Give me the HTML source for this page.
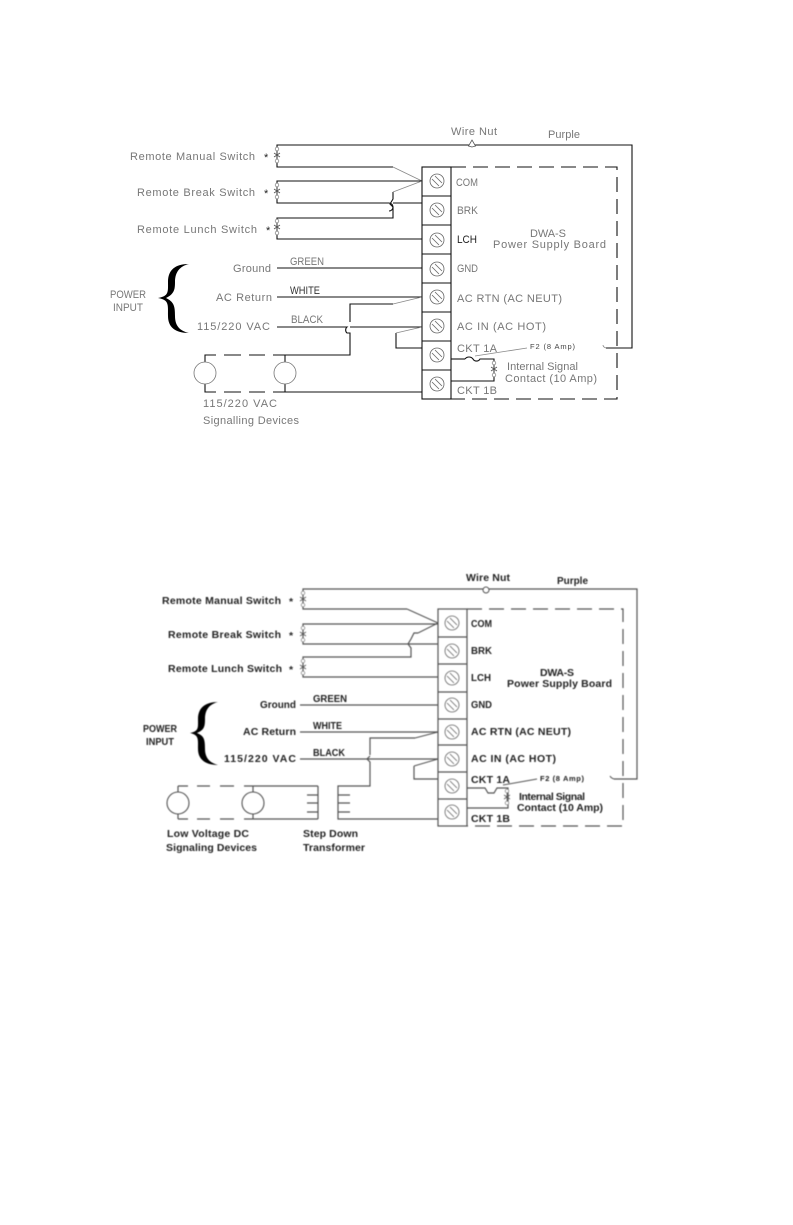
<!DOCTYPE html>
<html>
<head>
<meta charset="utf-8">
<style>
html,body{margin:0;padding:0;background:#fff;}
svg{display:block;position:absolute;left:0;top:0;}
text{font-family:"Liberation Sans",sans-serif;font-size:11px;fill:#777;stroke:none;}
.d2 text{fill:#222;font-weight:bold;font-size:10.5px;}
.w{fill:none;stroke:#111;stroke-width:1.1;}
.g{fill:none;stroke:#888;stroke-width:.8;}
.d{fill:none;stroke:#111;stroke-width:1.1;stroke-dasharray:15 7;}
.d2 .w,.d2 .d{stroke:#555;stroke-width:1.2;}
.d2 .g{stroke:#555;stroke-width:1;}
.d2{filter:blur(.6px);}
</style>
</head>
<body>
<svg width="793" height="1225" viewBox="0 0 793 1225" xmlns="http://www.w3.org/2000/svg">
<defs>
<g id="sc"><circle r="7" fill="#fff" stroke="#666" stroke-width=".8"/><path d="M-5 -2L2 5M-2 -5L5 2" fill="none" stroke="#666" stroke-width=".8"/></g>
<g id="sw"><circle cy="-7" r="1.8" fill="#fff" stroke="#777" stroke-width=".7"/><circle cy="5" r="1.8" fill="#fff" stroke="#777" stroke-width=".7"/><path d="M0 -5V3M-3 -3L3 1M3 -3L-3 1" fill="none" stroke="#555" stroke-width=".8"/></g>
</defs>

<g class="d1">
<path class="w" d="M277 156V145H632V348H606"/>
<path class="g" d="M606 348q-3 -1 -3 -3"/>
<path class="w" d="M277 156V167H393"/>
<path class="g" d="M393 167L422 181"/>
<path class="w" d="M277 192V181H422"/>
<path class="w" d="M277 192V203H389a4 4 0 0 1 0 8"/>
<path class="w" d="M393 203H422"/>
<path class="w" d="M277 228V218H393V207l-3 -3 3 -5V192"/>
<path class="g" d="M393 192L422 181"/>
<path class="w" d="M277 228V239H422"/>
<path class="w" d="M277 268H422"/>
<path class="w" d="M277 297H422"/>
<path class="w" d="M350 322V304H393"/>
<path class="g" d="M393 304L422 297"/>
<path class="w" d="M277 327H347a4 4 0 0 0 0 6H350V355H285"/>
<path class="w" d="M350 327H422"/>
<path class="w" d="M205 362V355H216M224 355H241M249 355H265M273 355H285V362"/>
<path class="w" d="M205 384V392H216M224 392H241M249 392H265M273 392H285V384M285 392H422"/>
<circle cx="205" cy="373" r="11" fill="#fff" stroke="#777" stroke-width=".8"/>
<circle cx="285" cy="373" r="11" fill="#fff" stroke="#777" stroke-width=".8"/>
<path class="w" d="M396 333V348H422"/>
<path class="g" d="M396 333L422 327"/>
<path class="w" d="M451 359H465"/>
<path class="w" d="M465 359a5 5 0 0 1 8 0a4 4 0 0 0 7 0H494V381H451"/>
<path class="g" d="M475 356L527 348"/>
<use href="#sw" x="277" y="156"/>
<use href="#sw" x="277" y="192"/>
<use href="#sw" x="277" y="228"/>
<use href="#sw" x="494" y="369" transform="translate(0 1)"/>
<path d="M472 147l-3.500 -1 3.500 -6 3.500 6z" fill="#fff" stroke="#555" stroke-width=".8"/>
<path class="d" d="M451 167H617V399H451"/>
<rect class="w" x="422" y="167" width="29" height="232" fill="#fff"/>
<path class="w" d="M422 196H451M422 225H451M422 254H451M422 283H451M422 312H451M422 341H451M422 370H451"/>
<use href="#sc" x="437" y="181"/><use href="#sc" x="437" y="210"/><use href="#sc" x="437" y="240"/><use href="#sc" x="437" y="269"/>
<use href="#sc" x="437" y="297"/><use href="#sc" x="437" y="326"/><use href="#sc" x="437" y="355"/><use href="#sc" x="437" y="384"/>
<path d="M189 264C175 264 168 270 168 282C168 292 169 296 158 298C169 300 168 304 168 316C168 327 175 333 189 333C180 331 175 326 175 316C175 306 174 302 166 298C174 294 175 290 175 282C175 272 180 266 189 264Z" fill="#000"/>

<text x="130" y="160" textLength="125">Remote Manual Switch</text>
<text x="264" y="161" style="fill:#222">*</text>
<text x="137" y="196" textLength="118">Remote Break Switch</text>
<text x="264" y="197" style="fill:#222">*</text>
<text x="137" y="233" textLength="120">Remote Lunch Switch</text>
<text x="266" y="234" style="fill:#222">*</text>
<text x="233" y="272" textLength="38">Ground</text>
<text x="290" y="265" textLength="34" lengthAdjust="spacingAndGlyphs">GREEN</text>
<text x="110" y="298" textLength="36" lengthAdjust="spacingAndGlyphs">POWER</text>
<text x="113" y="311" textLength="30" lengthAdjust="spacingAndGlyphs">INPUT</text>
<text x="216" y="301" textLength="56">AC Return</text>
<text x="290" y="294" textLength="30" lengthAdjust="spacingAndGlyphs" style="fill:#333">WHITE</text>
<text x="197" y="330" textLength="73">115/220 VAC</text>
<text x="291" y="323" textLength="32" lengthAdjust="spacingAndGlyphs">BLACK</text>
<text x="203" y="407" textLength="74">115/220 VAC</text>
<text x="203" y="424" textLength="96">Signalling Devices</text>
<text x="451" y="135" textLength="46">Wire Nut</text>
<text x="548" y="138" textLength="32">Purple</text>
<text x="456" y="186" textLength="22" lengthAdjust="spacingAndGlyphs">COM</text>
<text x="457" y="214" textLength="21" lengthAdjust="spacingAndGlyphs">BRK</text>
<text x="457" y="243" textLength="20" lengthAdjust="spacingAndGlyphs" style="fill:#222">LCH</text>
<text x="457" y="272" textLength="21" lengthAdjust="spacingAndGlyphs">GND</text>
<text x="530" y="237" textLength="36">DWA-S</text>
<text x="493" y="248" textLength="113">Power Supply Board</text>
<text x="457" y="302" textLength="105">AC RTN (AC NEUT)</text>
<text x="457" y="330" textLength="89">AC IN (AC HOT)</text>
<text x="457" y="352" textLength="40">CKT 1A</text>
<text x="530" y="349" textLength="45" style="font-size:7.500px;fill:#444">F2 (8 Amp)</text>
<text x="507" y="370" textLength="71">Internal Signal</text>
<text x="505" y="382" textLength="92">Contact (10 Amp)</text>
<text x="457" y="394" textLength="40">CKT 1B</text>
</g>

<g class="d2">
<path class="w" d="M303 600V589H637V779H614"/>
<path class="g" d="M614 779q-3 -1 -4 -3"/>
<path class="w" d="M303 600V609H407"/>
<path class="g" d="M407 609L438 623"/>
<path class="w" d="M303 635V624H438"/>
<path class="w" d="M303 635V644H438"/>
<path class="w" d="M303 668V657H411V648l-3 -4 3 -5 3 -6H418"/>
<path class="g" d="M418 633L438 623"/>
<path class="w" d="M303 668V677H438"/>
<path class="w" d="M300 705H438"/>
<path class="w" d="M300 732H438"/>
<path class="w" d="M370 755V738H415"/>
<path class="g" d="M415 738L438 732"/>
<path class="w" d="M300 759H438"/>
<path class="w" d="M370 756l-3 3 3 3V786H338V819H438"/>
<path class="w" d="M338 795H350M338 803H350M338 812H350"/>
<path class="w" d="M318 786V819M307 795H318M307 803H318M307 812H318"/>
<path class="w" d="M178 786H188M197 786H210M220 786H234M244 786H318"/>
<path class="w" d="M178 819H188M197 819H210M220 819H234M244 819H318"/>
<path class="w" d="M178 786V792M178 814V819M253 786V792M253 814V819"/>
<circle cx="178" cy="803" r="11" fill="#fff" stroke="#555" stroke-width="1.100"/>
<circle cx="253" cy="803" r="11" fill="#fff" stroke="#555" stroke-width="1.100"/>
<path class="w" d="M414 766V779H438"/>
<path class="g" d="M414 766L438 759"/>
<path class="w" d="M467 788H485l3 5h6l3 -5H508V808H467"/>
<path class="g" d="M503 785L537 779"/>
<use href="#sw" x="303" y="600"/>
<use href="#sw" x="303" y="635"/>
<use href="#sw" x="303" y="668"/>
<use href="#sw" x="507" y="798"/>
<circle cx="486" cy="590" r="3" fill="#fff" stroke="#555"/>
<path class="d" d="M467 609H623V826H467"/>
<rect class="w" x="438" y="609" width="29" height="217" fill="#fff"/>
<path class="w" d="M438 637H467M438 664H467M438 692H467M438 719H467M438 745H467M438 772H467M438 799H467"/>
<use href="#sc" x="452" y="623"/><use href="#sc" x="452" y="651"/><use href="#sc" x="452" y="678"/><use href="#sc" x="452" y="705"/>
<use href="#sc" x="452" y="732"/><use href="#sc" x="452" y="759"/><use href="#sc" x="452" y="786"/><use href="#sc" x="452" y="812"/>
<path d="M218 702C205 702 198 708 198 719C198 728 199 731 190 733C199 735 198 739 198 749C198 759 205 765 218 765C210 763 205 758 205 749C205 739 204 736 197 733C204 730 205 727 205 719C205 709 210 704 218 702Z" fill="#000"/>

<text x="162" y="604" textLength="119">Remote Manual Switch</text>
<text x="289" y="605">*</text>
<text x="168" y="638" textLength="113">Remote Break Switch</text>
<text x="289" y="639">*</text>
<text x="168" y="672" textLength="114">Remote Lunch Switch</text>
<text x="289" y="673">*</text>
<text x="260" y="708" textLength="36" lengthAdjust="spacingAndGlyphs">Ground</text>
<text x="313" y="702" textLength="34" lengthAdjust="spacingAndGlyphs">GREEN</text>
<text x="143" y="732" textLength="34" lengthAdjust="spacingAndGlyphs">POWER</text>
<text x="146" y="745" textLength="28" lengthAdjust="spacingAndGlyphs">INPUT</text>
<text x="243" y="735" textLength="53">AC Return</text>
<text x="313" y="729" textLength="29" lengthAdjust="spacingAndGlyphs">WHITE</text>
<text x="224" y="762" textLength="72">115/220 VAC</text>
<text x="313" y="756" textLength="32" lengthAdjust="spacingAndGlyphs">BLACK</text>
<text x="167" y="837" textLength="82">Low Voltage DC</text>
<text x="166" y="851" textLength="91">Signaling Devices</text>
<text x="303" y="837" textLength="55">Step Down</text>
<text x="303" y="851" textLength="62">Transformer</text>
<text x="466" y="581" textLength="44">Wire Nut</text>
<text x="557" y="584" textLength="31" lengthAdjust="spacingAndGlyphs">Purple</text>
<text x="471" y="627" textLength="21" lengthAdjust="spacingAndGlyphs">COM</text>
<text x="471" y="654" textLength="21" lengthAdjust="spacingAndGlyphs">BRK</text>
<text x="471" y="681" textLength="20" lengthAdjust="spacingAndGlyphs">LCH</text>
<text x="471" y="708" textLength="21" lengthAdjust="spacingAndGlyphs">GND</text>
<text x="540" y="676" textLength="34">DWA-S</text>
<text x="507" y="687" textLength="105">Power Supply Board</text>
<text x="471" y="735" textLength="100">AC RTN (AC NEUT)</text>
<text x="471" y="762" textLength="85">AC IN (AC HOT)</text>
<text x="471" y="783" textLength="39">CKT 1A</text>
<text x="540" y="781" textLength="44" style="font-size:7.500px">F2 (8 Amp)</text>
<text x="519" y="800" textLength="66">Internal Signal</text>
<text x="517" y="811" textLength="86">Contact (10 Amp)</text>
<text x="471" y="822" textLength="39">CKT 1B</text>
</g>
</svg>
</body>
</html>
